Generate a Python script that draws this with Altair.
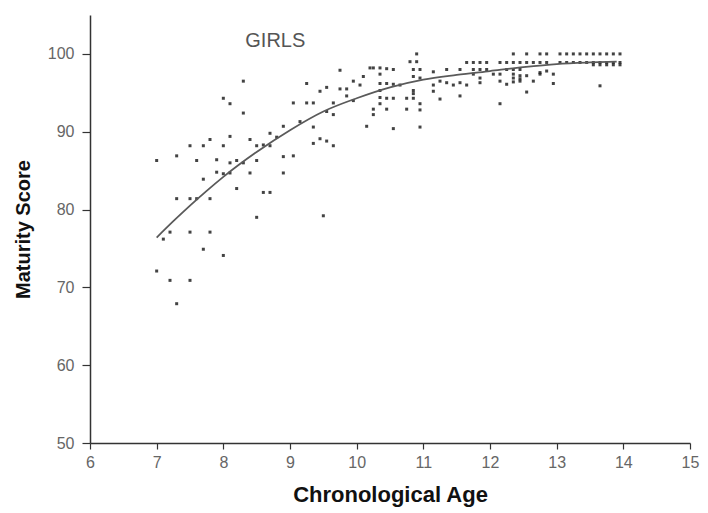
import altair as alt
import pandas as pd

# ---- scatter data (age in years, maturity score) ----
ages = [
    # ages 7 - 9
    8.3, 8.0, 8.1, 8.3, 8.7, 8.8, 8.1, 7.8, 8.4,
    7.5, 7.7, 8.0, 8.5, 8.6, 8.7,
    7.0, 7.3, 7.6, 7.9, 8.1, 8.2, 8.3, 8.5,
    7.9, 8.0, 8.1, 8.4, 7.7, 8.2, 8.6, 8.7,
    7.3, 7.5, 7.6, 7.8, 8.5, 7.2, 7.5, 7.8,
    7.1, 7.7, 8.0, 7.0, 7.2, 7.5, 7.3,
    # ages 9 - 11
    10.9, 10.8, 10.9, 10.2, 10.25, 10.35, 10.45, 10.55, 9.75, 10.35, 10.1, 10.85, 10.95,
    9.95, 10.05, 9.25, 10.35, 10.45, 10.55, 10.65, 9.55, 9.45, 9.75, 9.85, 10.35, 9.85,
    10.75, 10.85, 10.35, 10.45, 10.55, 9.95,
    9.05, 9.25, 9.35, 9.65, 10.35, 10.25, 10.45, 10.75, 9.55, 9.65, 10.25, 9.15, 8.9,
    9.35, 10.15, 10.55,
    9.45, 9.35, 9.55, 9.65, 8.9, 9.05, 8.9, 9.5,
    # ages 11 - 14
    11.65, 11.75, 11.85, 11.95, 12.15, 12.25, 12.35, 12.45, 12.55, 12.65, 12.75, 12.85,
    12.35, 12.55, 12.75, 12.85,
    10.85, 10.95, 11.35, 11.55, 11.75, 11.85, 11.95, 12.25, 12.35, 12.45,
    11.15, 11.75, 12.05, 12.15, 12.35, 12.45, 12.55, 12.75,
    11.25, 11.35, 11.45, 11.55, 11.65, 11.85, 11.85, 12.15, 12.25, 12.35, 12.45, 12.35,
    12.45, 12.65,
    11.15, 11.15, 10.85, 10.85, 11.25, 11.55, 12.55, 10.95, 10.95, 12.15, 10.95,
    13.05, 13.15, 13.25, 13.35, 13.45, 13.55, 13.65, 13.75, 13.85, 13.95,
    13.05, 13.15, 13.25, 13.35, 13.45, 13.55, 13.65, 13.75, 13.85, 13.95,
    13.55, 13.65, 13.75, 13.85, 13.95,
    12.85, 12.75, 12.95, 12.95, 13.65,
]
scores = [
    # ages 7 - 9
    96.5, 94.3, 93.6, 92.4, 89.8, 89.3, 89.4, 89.0, 89.0,
    88.2, 88.2, 88.2, 88.2, 88.3, 88.2,
    86.3, 86.9, 86.3, 86.4, 86.0, 86.3, 86.0, 86.3,
    84.8, 84.6, 84.7, 84.7, 83.9, 82.7, 82.2, 82.2,
    81.4, 81.4, 81.4, 81.4, 79.0, 77.1, 77.1, 77.1,
    76.2, 74.9, 74.1, 72.1, 70.9, 70.9, 67.9,
    # ages 9 - 11
    100.0, 99.0, 99.0, 98.2, 98.2, 98.2, 98.1, 98.0, 97.9, 97.4, 97.1, 97.1, 96.9,
    96.5, 96.0, 96.2, 96.2, 96.2, 96.1, 96.0, 95.7, 95.2, 95.5, 95.5, 95.3, 94.6,
    94.3, 94.3, 94.4, 94.3, 94.3, 94.0,
    93.7, 93.7, 93.7, 93.7, 93.6, 92.9, 92.9, 92.9, 92.6, 92.2, 92.2, 91.3, 90.7,
    90.6, 90.7, 90.4,
    89.1, 88.5, 88.8, 88.2, 86.8, 86.9, 84.7, 79.2,
    # ages 11 - 14
    98.9, 98.9, 98.9, 98.9, 98.9, 98.9, 98.9, 98.9, 98.9, 98.9, 98.9, 98.9,
    100.0, 100.0, 100.0, 100.0,
    98.0, 98.0, 98.0, 98.0, 98.0, 98.0, 98.0, 98.0, 98.0, 98.0,
    97.7, 97.4, 97.4, 97.4, 97.4, 97.2, 97.2, 97.4,
    96.5, 96.3, 96.0, 96.3, 96.0, 96.9, 96.3, 96.5, 96.1, 96.9, 96.8, 96.4,
    96.5, 96.5,
    96.0, 95.2, 95.3, 94.9, 94.2, 94.6, 95.1, 93.6, 92.8, 93.6, 90.6,
    100.0, 100.0, 100.0, 100.0, 100.0, 100.0, 100.0, 100.0, 100.0, 100.0,
    98.9, 98.9, 98.9, 98.9, 98.9, 98.9, 98.9, 98.9, 98.9, 98.9,
    98.6, 98.6, 98.6, 98.6, 98.6,
    97.8, 97.6, 97.4, 96.2, 95.9,
]

# ---- fitted curve ----
fit_ages = [7.0, 7.25, 7.5, 7.75, 8.0, 8.5, 9.0, 9.5, 10.0, 10.5, 11.0, 11.5,
            12.0, 12.5, 13.0, 13.5, 13.9]
fit_scores = [76.4, 78.5, 80.5, 82.4, 84.2, 87.4, 90.2, 92.6, 94.3, 95.7, 96.7,
              97.3, 97.8, 98.3, 98.7, 98.9, 99.0]

# ---- axis ticks ----
x_ticks = [6, 6.5, 7, 7.5, 8, 8.5, 9, 9.5, 10, 10.5, 11, 11.5, 12, 12.5, 13,
           13.5, 14, 14.5, 15]
y_ticks = [50, 55, 60, 65, 70, 75, 80, 85, 90, 95, 100, 105]

label_text = ["GIRLS"]
label_age = [8.78]
label_score = [101.7]

df = pd.DataFrame({"age": ages, "score": scores})
fit = pd.DataFrame({"age": fit_ages, "score": fit_scores})
lab = pd.DataFrame({"age": label_age, "score": label_score, "text": label_text})

FONT = "Liberation Sans"

xscale = alt.Scale(domain=[6, 15], nice=False, zero=False)
yscale = alt.Scale(domain=[50, 105], nice=False, zero=False)

xaxis = alt.Axis(
    values=x_ticks,
    labelExpr="datum.value % 1 === 0 ? format(datum.value, 'd') : ''",
    tickSize={"condition": {"test": "datum.value % 1 === 0", "value": 6}, "value": 4},
    grid=False,
    domainColor="#333333",
    domainWidth=1.5,
    tickColor="#333333",
    tickWidth=1.2,
    labelColor="#666666",
    labelFont=FONT,
    labelFontSize=16,
    labelPadding=5,
    labelFlush=False,
    title="Chronological Age",
    titleFont=FONT,
    titleFontSize=22,
    titleFontWeight="bold",
    titleColor="#111111",
    titlePadding=14,
)
yaxis = alt.Axis(
    values=y_ticks,
    labelExpr="datum.value % 10 === 0 ? format(datum.value, 'd') : ''",
    tickSize={"condition": {"test": "datum.value % 10 === 0", "value": 8}, "value": 5},
    grid=False,
    domainColor="#333333",
    domainWidth=1.5,
    tickColor="#333333",
    tickWidth=1.2,
    labelColor="#666666",
    labelFont=FONT,
    labelFontSize=16,
    labelPadding=8,
    labelFlush=False,
    title="Maturity Score",
    titleFont=FONT,
    titleFontSize=20,
    titleFontWeight="bold",
    titleColor="#111111",
    titlePadding=14,
)

points = alt.Chart(df).mark_square(size=9, color="#222222", opacity=0.85).encode(
    x=alt.X("age:Q", scale=xscale, axis=xaxis),
    y=alt.Y("score:Q", scale=yscale, axis=yaxis),
)

curve = alt.Chart(fit).mark_line(color="#5a5a5a", strokeWidth=1.8, interpolate="monotone").encode(
    x=alt.X("age:Q", scale=xscale),
    y=alt.Y("score:Q", scale=yscale),
)

text = alt.Chart(lab).mark_text(font=FONT, fontSize=20, color="#555555",
                                align="center", baseline="middle").encode(
    x=alt.X("age:Q", scale=xscale),
    y=alt.Y("score:Q", scale=yscale),
    text="text:N",
)

chart = alt.layer(points, curve, text).properties(
    width=600,
    height=428,
    padding={"left": 90, "top": 15, "right": 18, "bottom": 70},
    autosize=alt.AutoSizeParams(type="none"),
    background="white",
).configure_view(stroke=None)

chart.save("out.html", embed_options={"renderer": "svg", "actions": False})
